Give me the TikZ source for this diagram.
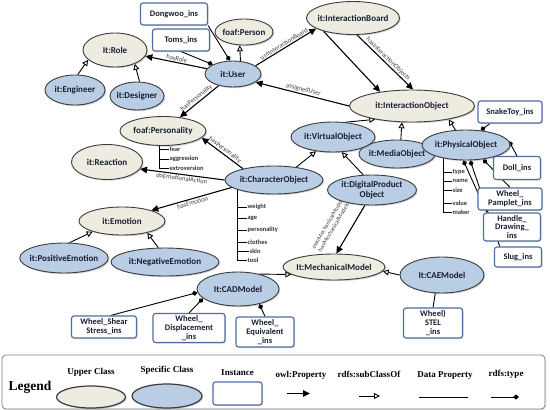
\documentclass[tikz,border=0pt]{standalone}
\usepackage{fontspec}
\setmainfont{Carlito}
\newfontfamily\legendfont{Liberation Serif}
\usetikzlibrary{shapes.geometric, positioning, arrows.meta, shadows, backgrounds}
\definecolor{ontUpper}{RGB}{238,236,225}
\definecolor{ontSpecific}{RGB}{185,205,229}
\definecolor{ontFrame}{RGB}{60,60,60}
\definecolor{ontInstance}{RGB}{79,108,160}
\definecolor{ontText}{RGB}{25,30,50}

\begin{document}
\begin{tikzpicture}[x=1pt, y=-1pt,
  cls/.style={ellipse, draw=ontFrame, line width=0.9pt, inner xsep=-3pt, inner ysep=0pt, align=center, text=ontText,
    font=\fontsize{9}{10}\selectfont\bfseries,
    drop shadow={shadow xshift=1.2pt, shadow yshift=-1.2pt, opacity=0.35}},
  upper/.style={cls, fill=ontUpper},
  specific/.style={cls, fill=ontSpecific},
  inst/.style={rectangle, rounded corners=2.5pt, draw=ontInstance, line width=1.1pt, fill=white, inner sep=1pt,
    align=center, text=ontText, font=\fontsize{8.5}{8.8}\selectfont\bfseries,
    drop shadow={shadow xshift=1pt, shadow yshift=-1pt, opacity=0.3}},
  prop/.style={-{Triangle[length=7pt, width=6.5pt]}, line width=1.1pt},
  subcls/.style={-{Triangle[open, length=6pt, width=6pt]}, line width=0.9pt},
  typeof/.style={-{Diamond[length=6pt, width=5pt]}, line width=0.9pt},
  datap/.style={line width=0.9pt},
  elabel/.style={sloped, above, inner sep=1pt, font=\fontsize{6.6}{7}\selectfont, text=black!75},
  dlabel/.style={anchor=west, inner sep=0.5pt, font=\fontsize{6.5}{6.5}\selectfont\bfseries, text=black!80},
  lgtext/.style={inner sep=1pt, font=\legendfont\fontsize{9}{10}\selectfont\bfseries}
]
\useasboundingbox (0,0) rectangle (550,410);

\node[upper, minimum width=64pt, minimum height=34pt] (role) at (115,50) {It:Role};
\node[specific, minimum width=60pt, minimum height=30pt] (engineer) at (75,90) {it:Engineer};
\node[specific, minimum width=54pt, minimum height=28pt] (designer) at (137,96) {it:Designer};
\node[specific, minimum width=56pt, minimum height=26pt] (user) at (233,74) {it:User};
\node[upper, minimum width=58pt, minimum height=26pt] (person) at (244,32) {foaf:Person};
\node[inst, minimum width=67pt, minimum height=22pt] (dongwoo) at (174,14) {Dongwoo\_ins};
\node[inst, minimum width=57pt, minimum height=22pt] (toms) at (181,40) {Toms\_ins};
\node[upper, minimum width=93pt, minimum height=33pt] (board) at (353,18) {it:InteractionBoard};
\node[upper, minimum width=125pt, minimum height=32pt] (iobj) at (412,106) {it:InteractionObject};
\node[upper, minimum width=86pt, minimum height=29pt] (persona) at (163,131) {foaf:Personality};
\node[upper, minimum width=71pt, minimum height=35pt] (reaction) at (107,162) {it:Reaction};
\node[specific, minimum width=98pt, minimum height=28pt] (charobj) at (274,180) {it:CharacterObject};
\node[specific, minimum width=76pt, minimum height=28pt] (mediaobj) at (397,154) {it:MediaObject};
\node[specific, minimum width=84pt, minimum height=30pt] (virtobj) at (333,137) {it:VirtualObject};
\node[specific, minimum width=88pt, minimum height=30pt] (physobj) at (466,145) {it:PhysicalObject};
\node[specific, minimum width=89pt, minimum height=30pt] (digprod) at (372,190) {it:DigitalProduct\\Object};
\node[upper, minimum width=86pt, minimum height=28pt] (emotion) at (122,221) {it:Emotion};
\node[specific, minimum width=80pt, minimum height=30pt] (posemo) at (64,258) {it:PositiveEmotion};
\node[specific, minimum width=108pt, minimum height=28pt] (negemo) at (165,262) {it:NegativeEmotion};
\node[upper, minimum width=102pt, minimum height=26pt] (mechmodel) at (334,267) {It:MechanicalModel};
\node[specific, minimum width=82pt, minimum height=34pt] (cadmodel) at (238,289) {It:CADModel};
\node[specific, minimum width=84pt, minimum height=36pt] (caemodel) at (442,275) {It:CAEModel};

\node[inst, minimum width=64pt, minimum height=22pt] (snaketoy) at (510,112) {SnakeToy\_ins};
\node[inst, minimum width=47pt, minimum height=23pt] (doll) at (517,168) {Doll\_ins};
\node[inst, minimum width=64pt, minimum height=22pt] (pamplet) at (510,199) {Wheel\_\\Pamplet\_ins};
\node[inst, minimum width=57pt, minimum height=28pt] (handle) at (512,227) {Handle\_\\Drawing\_\\ins};
\node[inst, minimum width=47pt, minimum height=20pt] (slug) at (518,257) {Slug\_ins};
\node[inst, minimum width=65pt, minimum height=22pt] (shear) at (104,327) {Wheel\_Shear\\Stress\_ins};
\node[inst, minimum width=72pt, minimum height=29pt] (displ) at (189,328) {Wheel\_\\Displacement\\\_ins};
\node[inst, minimum width=58pt, minimum height=30pt] (equiv) at (265,332) {Wheel\_\\Equivalent\\\_ins};
\node[inst, minimum width=59pt, minimum height=30pt] (stel) at (433,323) {Wheel)\\STEL\\\_ins};

\node[dlabel] (fear) at (169,149) {fear};
\node[dlabel] (aggression) at (169,159) {aggression};
\node[dlabel] (extroversion) at (169,168) {extroversion};
\node[dlabel] (weight) at (247,207) {weight};
\node[dlabel] (age) at (247,218) {age};
\node[dlabel] (personality) at (247,230) {personality};
\node[dlabel] (clothes) at (247,242) {clothes};
\node[dlabel] (skin) at (249,251) {skin};
\node[dlabel] (tool) at (247,260) {tool};
\node[dlabel] (type) at (452,172) {type};
\node[dlabel] (name) at (452,181) {name};
\node[dlabel] (size) at (452,190) {size};
\node[dlabel] (value) at (452,203) {value};
\node[dlabel] (maker) at (452,212) {maker};

\begin{scope}[on background layer]
  \draw[prop] (user) -- node[elabel] {hasRole} (role);
  \draw[typeof] (dongwoo.south east) -- (user.103);
  \draw[typeof] (toms.south) -- (user.155);
  \draw[subcls] (user.60) -- (person.-108);
  \draw[prop] (user.20) -- node[elabel] {useInteractionBoard} (board.-164);
  \draw[prop] (board.-156) -- (iobj.156);
  \draw[prop] (board.-77) -- node[elabel] {hasInteractionObjects} (iobj.86);
  \draw[prop] (iobj.west) -- node[elabel] {assignedUser} (user.-20);
  \draw[prop] (user) -- node[elabel] {hasPersonality} (persona);
  \draw[subcls] (engineer.80) -- (role.-160);
  \draw[subcls] (designer.80) -- (role.-35);
  \draw[prop] (charobj.160) -- node[elabel] {hasPersonality} (persona.-10);
  \draw[prop] (charobj.west) -- node[elabel, below] {doEmotionalAction} (reaction.-12);
  \draw[prop] (charobj.190) -- node[elabel, below] {hasEmotion} (emotion.20);
  \draw[subcls] (posemo.70) -- (emotion.-160);
  \draw[subcls] (negemo.115) -- (emotion.-25);
  \draw[subcls] (charobj.30) -- (virtobj.-140);
  \draw[subcls] (digprod.120) -- (virtobj.-60);
  \draw[subcls] (virtobj.50) -- (iobj.-160);
  \draw[subcls] (mediaobj.75) -- (iobj.-122);
  \draw[subcls] (physobj.125) -- (iobj.-20);
  \draw[typeof] (snaketoy.-150) -- (physobj.45);
  \draw[typeof] (doll.north) -- (physobj.5);
  \draw[typeof] (pamplet.north) -- (physobj.-40);
  \draw[typeof] (handle.150) -- (physobj.-100);
  \draw[typeof] (slug.150) -- (physobj.-75);
  \draw[prop] (digprod.-115) -- node[elabel, pos=0.62, above=12pt, font=\fontsize{6.1}{6.5}\selectfont] {hasMechanicalModels}
    node[elabel, pos=0.62, above=19pt, font=\fontsize{6.1}{6.5}\selectfont] {ownMechanicalModels} (mechmodel.80);
  \draw[subcls] (cadmodel.35) -- (mechmodel.190);
  \draw[subcls] (caemodel.west) -- (mechmodel.-5);
  \draw[typeof] (shear.60) -- (cadmodel.185);
  \draw[typeof] (displ.north) -- (cadmodel.-165);
  \draw[typeof] (equiv.north) -- (cadmodel.-35);
  \draw[datap] (stel.north) -- (caemodel.-110);
  \foreach \d in {fear, aggression, extroversion}
    \draw[datap] (persona.-105) |- (\d.west);
  \foreach \d in {weight, age, personality, clothes, skin, tool}
    \draw[datap] (charobj.-165) |- (\d.west);
  \foreach \d in {type, name, size, value, maker}
    \draw[datap] (physobj.-149) |- (\d.west);
\end{scope}

\node[draw=black!50, rounded corners=4pt, line width=0.8pt, fill=white, minimum width=543pt, minimum height=54pt,
  drop shadow={shadow xshift=1pt, shadow yshift=-1pt, opacity=0.25}] (legend) at (273.5,382) {};
\node[lgtext, font=\legendfont\fontsize{13.5}{14}\selectfont\bfseries] (lgtitle) at (30,387) {Legend};
\node[upper, line width=1.2pt, minimum width=69pt, minimum height=22pt] (lgupper) at (91,397) {};
\node[lgtext, above=8pt of lgupper] {Upper Class};
\node[specific, line width=1.2pt, minimum width=70pt, minimum height=24pt] (lgspecific) at (167,396) {};
\node[lgtext, above=8pt of lgspecific] {Specific Class};
\node[inst, minimum width=49pt, minimum height=23pt] (lginst) at (237.5,393.5) {};
\node[lgtext, above=5pt of lginst] {Instance};
\node[lgtext] at (301,375) {owl:Property};
\node[lgtext] at (369,374) {rdfs:subClassOf};
\node[lgtext] at (445,376) {Data Property};
\node[lgtext] at (506,374) {rdfs:type};
\coordinate (lgpropA) at (287,393.5);
\coordinate (lgpropB) at (310,393.5);
\coordinate (lgsubA) at (359,396);
\coordinate (lgsubB) at (380,396);
\coordinate (lgdataA) at (419,397);
\coordinate (lgdataB) at (468,397);
\coordinate (lgtypeA) at (491,397);
\coordinate (lgtypeB) at (519,397);
\draw[prop] (lgpropA) -- (lgpropB);
\draw[subcls] (lgsubA) -- (lgsubB);
\draw[datap] (lgdataA) -- (lgdataB);
\draw[typeof] (lgtypeA) -- (lgtypeB);
\end{tikzpicture}
\end{document}
